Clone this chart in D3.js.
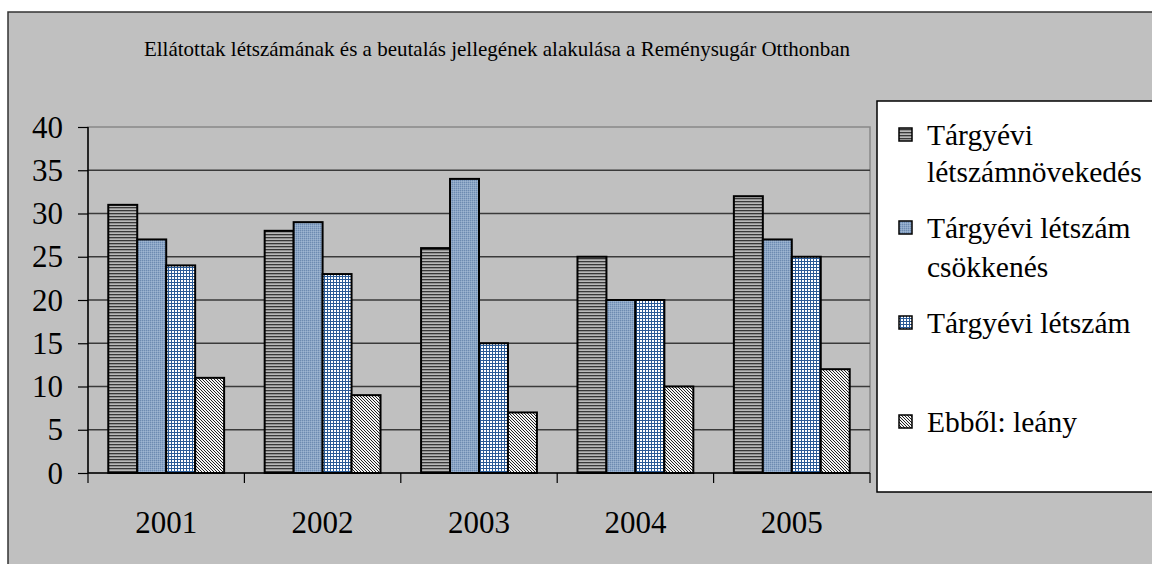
<!DOCTYPE html>
<html><head><meta charset="utf-8">
<script src="https://cdn.jsdelivr.net/npm/d3@7"></script>
<style>html,body{margin:0;padding:0;background:#fff;}svg{display:block;}</style>
</head><body>
<svg id="c" width="1152" height="564"></svg>
<script>
const title = "Ellátottak létszámának és a beutalás jellegének alakulása a Reménysugár Otthonban";
const years = ["2001","2002","2003","2004","2005"];
const seriesNames = ["Tárgyévi létszámnövekedés","Tárgyévi létszám csökkenés","Tárgyévi létszám","Ebből: leány"];
const legendLines = [["Tárgyévi","létszámnövekedés"],["Tárgyévi létszám","csökkenés"],["Tárgyévi létszám"],["Ebből: leány"]];
const s1 = [31,28,26,25,32];
const s2 = [27,29,34,20,27];
const s3 = [24,23,15,20,25];
const s4 = [11,9,7,10,12];
const yTicks = [0,5,10,15,20,25,30,35,40];
const seriesValues = [s1,s2,s3,s4];

const svg = d3.select("#c");
const FF = '"Liberation Serif"';
function txt(sel, size){ return sel.style("font-family",FF).style("font-size",size+"px").attr("fill","#000"); }
const defs = svg.append("defs");
let p = defs.append("pattern").attr("id","p0").attr("patternUnits","userSpaceOnUse").attr("width",4).attr("height",3);
p.append("rect").attr("width",4).attr("height",3).attr("fill","#b8b8b8");
p.append("rect").attr("y",0).attr("width",4).attr("height",1.3).attr("fill","#383838");
p = defs.append("pattern").attr("id","p1").attr("patternUnits","userSpaceOnUse").attr("width",2).attr("height",2);
p.append("rect").attr("width",2).attr("height",2).attr("fill","#8aa5c6");
p.append("rect").attr("width",1).attr("height",1).attr("fill","#6e8bb0");
p.append("rect").attr("x",1).attr("y",1).attr("width",1).attr("height",1).attr("fill","#9fb5d0");
p = defs.append("pattern").attr("id","p2").attr("patternUnits","userSpaceOnUse").attr("width",3).attr("height",3);
p.append("rect").attr("width",3).attr("height",3).attr("fill","#ffffff");
p.append("rect").attr("width",3).attr("height",1).attr("fill","#2a5a96");
p.append("rect").attr("width",1).attr("height",3).attr("fill","#2a5a96");
p = defs.append("pattern").attr("id","p3").attr("patternUnits","userSpaceOnUse").attr("width",3).attr("height",3);
p.append("rect").attr("width",3).attr("height",3).attr("fill","#f4f4f4");
[[0,0],[1,1],[2,2]].forEach(([x,y])=>{
  p.append("rect").attr("x",x).attr("y",y).attr("width",1).attr("height",1).attr("fill","#222");
});
const fills = ["url(#p0)","url(#p1)","url(#p2)","url(#p3)"];

svg.append("rect").attr("x",8).attr("y",12).attr("width",1160).attr("height",570)
  .attr("fill","#c0c0c0").attr("stroke","#333").attr("stroke-width",1.5);

txt(svg.append("text").attr("x",497).attr("y",56).attr("text-anchor","middle"),21).text(title);

const L = 88, R = 870, T = 127, B = 473;
const x0 = d3.scaleBand().domain(years).range([L,R]).paddingInner(0).paddingOuter(0);
const x1 = d3.scaleBand().domain(d3.range(4)).range([0,x0.bandwidth()]).paddingOuter(0.7).paddingInner(0);
const y = d3.scaleLinear().domain([0,40]).range([B,T]);

svg.append("rect").attr("x",L).attr("y",T).attr("width",R-L).attr("height",B-T)
  .attr("fill","none").attr("stroke","#888").attr("stroke-width",1.5);
svg.append("g").selectAll("line").data(yTicks.filter(t=>t>0&&t<40)).join("line")
  .attr("x1",L).attr("x2",R).attr("y1",d=>y(d)).attr("y2",d=>y(d))
  .attr("stroke","#3a3a3a").attr("stroke-width",1.5);

const g = svg.append("g");
years.forEach((yr,i)=>{
  seriesValues.forEach((vals,k)=>{
    g.append("rect").attr("x",x0(yr)+x1(k)).attr("y",y(vals[i]))
      .attr("width",x1.bandwidth()).attr("height",B-y(vals[i]))
      .attr("fill",fills[k]).attr("stroke","#000").attr("stroke-width",2);
  });
});

const yAxis = d3.axisLeft(y).tickValues(yTicks).tickSize(10).tickPadding(15);
const ya = svg.append("g").attr("transform",`translate(${L},0)`).call(yAxis);
ya.select(".domain").remove();
ya.selectAll("line").attr("stroke","#000").attr("stroke-width",1.2);
txt(ya.selectAll("text"),31).attr("dy","0.33em");
svg.append("line").attr("x1",L).attr("x2",L).attr("y1",T).attr("y2",B).attr("stroke","#000").attr("stroke-width",1.5);

svg.append("line").attr("x1",L).attr("x2",R).attr("y1",B).attr("y2",B).attr("stroke","#000").attr("stroke-width",1.5);
const bounds = years.map(d=>x0(d)).concat([R]);
svg.append("g").selectAll("line").data(bounds).join("line")
  .attr("x1",d=>d).attr("x2",d=>d).attr("y1",B).attr("y2",B+10).attr("stroke","#000").attr("stroke-width",1.2);
txt(svg.append("g").selectAll("text").data(years).join("text")
  .attr("x",d=>x0(d)+x0.bandwidth()/2).attr("y",533).attr("text-anchor","middle"),31).text(d=>d);

svg.append("rect").attr("x",877).attr("y",101).attr("width",300).attr("height",391)
  .attr("fill","#fff").attr("stroke","#000").attr("stroke-width",1.5);
const legY = [[145,182],[238,277],[333],[432]];
legendLines.forEach((lines,k)=>{
  const ly = legY[k][0];
  svg.append("rect").attr("x",899).attr("y",ly-17).attr("width",13).attr("height",13)
    .attr("fill",fills[k]).attr("stroke","#000").attr("stroke-width",1.5);
  lines.forEach((t,j)=>{
    txt(svg.append("text").attr("x",927).attr("y",legY[k][j]),29.5).text(t);
  });
});
</script>
</body></html>
